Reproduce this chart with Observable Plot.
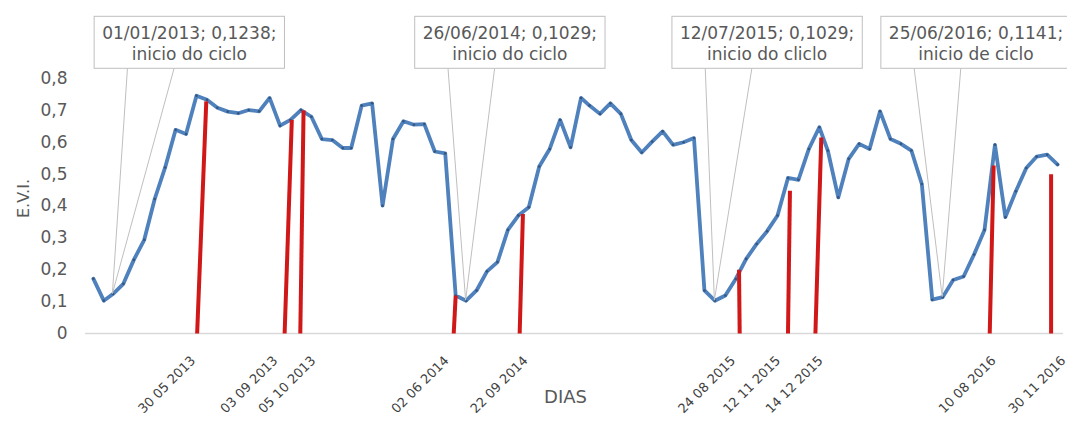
<!DOCTYPE html>
<html>
<head>
<meta charset="utf-8">
<script src="https://cdn.jsdelivr.net/npm/d3@7"></script>
<script src="https://cdn.jsdelivr.net/npm/@observablehq/plot@0.6"></script>
<style>
  html, body { margin: 0; padding: 0; background: #fff; }
  svg { overflow: visible; }
</style>
</head>
<body>
<div id="chart"></div>
<script>
// ---- Data ----
// MODIS 16-day composite days of year
const compositeDOY = [1,17,33,49,65,81,97,113,129,145,161,177,193,209,225,241,257,273,289,305,321,337,353];
const doy2012 = [337, 353];
const evi2012 = [0.172, 0.103];
const evi2013 = [0.1238,0.156,0.231,0.294,0.422,0.521,0.639,0.626,0.746,0.733,0.708,0.696,0.691,0.701,0.697,0.739,0.652,0.670,0.701,0.680,0.610,0.607,0.582];
const evi2014 = [0.582,0.715,0.722,0.401,0.610,0.666,0.655,0.657,0.571,0.565,0.119,0.1029,0.135,0.195,0.224,0.325,0.370,0.396,0.524,0.579,0.670,0.584,0.739];
const evi2015 = [0.715,0.689,0.722,0.689,0.607,0.568,0.602,0.634,0.592,0.600,0.613,0.135,0.1029,0.119,0.171,0.234,0.281,0.321,0.370,0.488,0.482,0.579,0.647];
const evi2016 = [0.574,0.427,0.548,0.595,0.579,0.697,0.610,0.595,0.574,0.469,0.106,0.1141,0.168,0.179,0.248,0.325,0.592,0.365,0.446,0.519,0.555,0.561,0.530];

// red marker lines (bottom date on axis, top date, top value)
const redBottom = ["2013-05-10","2013-09-21","2013-10-15","2014-06-07","2014-09-16","2015-08-19","2015-11-01","2015-12-13","2016-09-05","2016-12-08"];
const redTop    = ["2013-05-24","2013-10-02","2013-10-20","2014-06-10","2014-09-21","2015-08-18","2015-11-04","2015-12-22","2016-09-11","2016-12-08"];
const redValue  = [0.728,0.670,0.700,0.119,0.375,0.200,0.448,0.615,0.527,0.500];

// x tick labels and where they sit
const tickLabels = ["30 05 2013","03 09 2013","05 10 2013","02 06 2014","22 09 2014","24 08 2015","12 11 2015","14 12 2015","10 08 2016","30 11 2016"];
const tickDates  = ["2013-05-04","2013-09-07","2013-11-04","2014-05-27","2014-09-25","2015-08-09","2015-10-17","2015-12-21","2016-09-11","2016-12-27"];

// y ticks
const yTicks = [0,0.1,0.2,0.3,0.4,0.5,0.6,0.7,0.8];
const yTickLabels = ["0","0,1","0,2","0,3","0,4","0,5","0,6","0,7","0,8"];

// callouts
const calloutDates  = ["2013-01-01","2014-06-26","2015-07-12","2016-06-25"];
const calloutValues = [0.1238,0.1029,0.1029,0.1141];
const calloutLine1  = ["01/01/2013; 0,1238;","26/06/2014; 0,1029;","12/07/2015; 0,1029;","25/06/2016; 0,1141;"];
const calloutLine2  = ["inicio do ciclo","inicio do ciclo","inicio do cliclo","inicio de ciclo"];
const calloutBoxDates = ["2013-04-28","2014-09-01","2015-09-30","2016-08-15"];

// ---- Build tables ----
const toDate = (y, doy) => new Date(Date.UTC(y, 0, doy));
const series = [];
doy2012.forEach((d, i) => series.push({date: toDate(2012, d), evi: evi2012[i]}));
[[2013, evi2013],[2014, evi2014],[2015, evi2015],[2016, evi2016]].forEach(([y, arr]) =>
  arr.forEach((v, i) => series.push({date: toDate(y, compositeDOY[i]), evi: v})));

const reds = redBottom.map((b, i) => ({x1: new Date(b), x2: new Date(redTop[i]), y2: redValue[i]}));
const ticks = tickLabels.map((t, i) => ({date: new Date(tickDates[i]), label: t}));
const callouts = calloutLine1.map((t, i) => ({
  date: new Date(calloutDates[i]), value: calloutValues[i],
  text: t + "\n" + calloutLine2[i], boxDate: new Date(calloutBoxDates[i])
}));

const plot = Plot.plot({
  width: 1067,
  height: 432,
  marginLeft: 85,
  marginRight: 4,
  marginTop: 78,
  marginBottom: 99,
  style: {fontFamily: "DejaVu Sans", fontSize: "17px", color: "#595959", background: "#fff"},
  x: {type: "utc", domain: [new Date("2012-11-20"), new Date("2016-12-27")], axis: null},
  y: {domain: [0, 0.8], ticks: yTicks, tickFormat: d => yTickLabels[Math.round(d * 10)], tickSize: 0, tickPadding: 18, label: null},
  marks: [
    Plot.ruleY([0], {stroke: "#d9d9d9", strokeWidth: 1.5}),
    Plot.line(series, {x: "date", y: "evi", stroke: "#4f81bd", strokeWidth: 3.8, strokeLinejoin: "round", strokeLinecap: "round"}),
    Plot.dot(series, {x: "date", y: "evi", r: 1.3, fill: "#34557e", stroke: "none"}),
    Plot.link(reds, {x1: "x1", y1: () => 0, x2: "x2", y2: "y2", stroke: "#d01818", strokeWidth: 4}),
    Plot.text(ticks, {x: "date", y: () => 0, text: "label", rotate: -45, textAnchor: "end", dy: 25, fontSize: 13, fill: "#404040"}),
    Plot.text(["E.V.I."], {frameAnchor: "left", dx: -62, dy: 12, rotate: -90, fontSize: 16, fill: "#595959"}),
    Plot.text(["DIAS"], {frameAnchor: "bottom", dx: -9, dy: 69, fontSize: 18, fill: "#595959"}),
    Plot.text(callouts, {x: "boxDate", frameAnchor: "top", lineAnchor: "middle", dy: -36, text: "text", lineHeight: 1.25, fontSize: 17, fill: "#595959"})
  ]
});

document.getElementById("chart").append(plot);

// ---- Callout boxes and leader wedges, drawn from the plot's scales ----
const svgEl = plot.tagName.toLowerCase() === "svg" ? plot : plot.querySelector("svg");
function scaleFn(name) {
  let s = null;
  try { s = plot.scale(name); } catch (e) { s = null; }
  if (s && typeof s.apply === "function") return v => s.apply(v);
  const d = s ? s.domain.map(Number) : null, r = s ? s.range : null;
  return v => r[0] + (+v - d[0]) / (d[1] - d[0]) * (r[1] - r[0]);
}
const sx = scaleFn("x"), sy = scaleFn("y");
const svgRect = svgEl.getBoundingClientRect();
const allTexts = Array.from(svgEl.querySelectorAll("text"));
const layer = document.createElementNS("http://www.w3.org/2000/svg", "g");
layer.setAttribute("aria-label", "callout-boxes");
let insertedBefore = null;
callouts.forEach((c, i) => {
  const t = allTexts.find(el => el.textContent.indexOf(calloutLine1[i]) === 0);
  if (!t) return;
  if (!insertedBefore) {
    insertedBefore = t.parentNode;
    insertedBefore.parentNode.insertBefore(layer, insertedBefore);
  }
  const r = t.getBoundingClientRect();
  const cx = r.x + r.width / 2 - svgRect.x;
  const cy = r.y + r.height / 2 - svgRect.y;
  const w = r.width + 16, h = 52;
  const left = cx - w / 2, top = cy - h / 2 - 1;
  const ax = sx(c.date), ay = sy(c.value);
  const bx1 = left + 0.175 * w, bx2 = left + 0.42 * w, by = top + h;
  const sel = d3.select(layer);
  sel.append("path")
    .attr("d", `M${bx1},${by}L${ax},${ay}L${bx2},${by}`)
    .attr("fill", "none").attr("stroke", "#bfbfbf").attr("stroke-width", 1);
  sel.append("rect")
    .attr("x", left).attr("y", top).attr("width", w).attr("height", h)
    .attr("fill", "#fff").attr("stroke", "#bfbfbf").attr("stroke-width", 1);
});
</script>
</body>
</html>
